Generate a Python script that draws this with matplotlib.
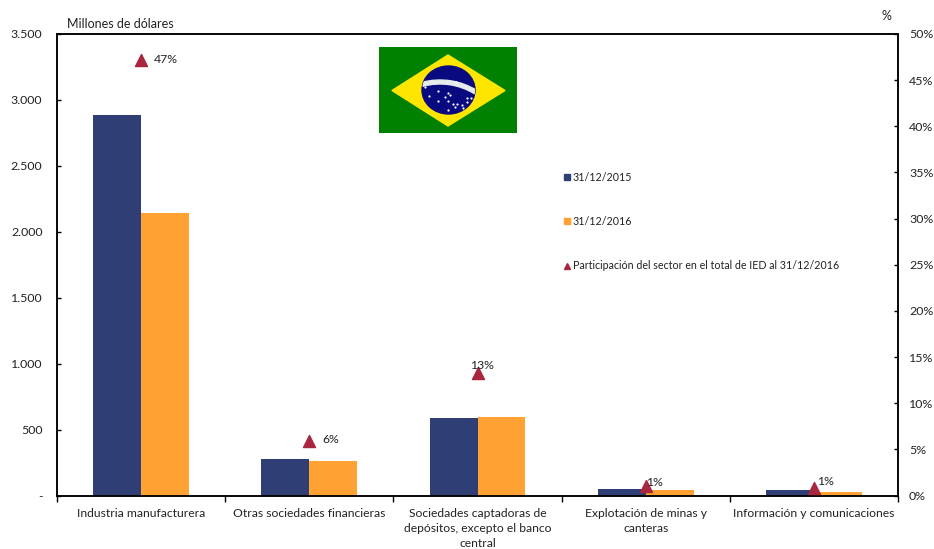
import numpy as np
import matplotlib
matplotlib.use("Agg")
import matplotlib.pyplot as plt
from matplotlib.patches import Polygon, Ellipse, Rectangle, Wedge

plt.rcParams['font.family'] = ['Lato', 'DejaVu Sans']

# Data
categories = ["Industria manufacturera", "Otras sociedades financieras",
              "Sociedades captadoras de\ndepósitos, excepto el banco\ncentral",
              "Explotación de minas y\ncanteras", "Información y comunicaciones"]
ied_2015 = [2885, 280, 590, 50, 45]
ied_2016 = [2145, 265, 597, 40, 28]
share_2016 = [47.2, 5.9, 13.3, 1.0, 0.8]
share_labels = ["47%", "6%", "13%", "1%", "1%"]
yticks_left = [0, 500, 1000, 1500, 2000, 2500, 3000, 3500]
yticklabels_left = ["-", "500", "1.000", "1.500", "2.000", "2.500", "3.000", "3.500"]
yticks_right = [0, 5, 10, 15, 20, 25, 30, 35, 40, 45, 50]

W, H = 934, 549
fig = plt.figure(figsize=(W / 100, H / 100), dpi=100)
ax = fig.add_axes([57 / W, 1 - 495.5 / H, (898 - 57) / W, (495.5 - 34) / H])

x = np.arange(len(categories))
bw = 0.285
b1 = ax.bar(x - bw / 2, ied_2015, bw, color="#2F3E75", label="31/12/2015")
b2 = ax.bar(x + bw / 2, ied_2016, bw, color="#FFA233", label="31/12/2016")

ax.set_xlim(-0.5, len(categories) - 0.5)
ax.set_ylim(0, 3500)
ax.set_yticks(yticks_left)
ax.set_yticklabels(yticklabels_left, fontsize=8.9, color="#222222")
ax.tick_params(axis="y", direction="in", length=3, width=1, pad=10.5)
ax.set_xticks(x)
ax.set_xticklabels(categories, fontsize=8.7, color="#222222", linespacing=1.42)
ax.tick_params(axis="x", length=0, pad=9)
ax.set_xticks(np.arange(-0.5, len(categories)), minor=True)
ax.tick_params(axis="x", which="minor", direction="out", length=4, width=1)

ax2 = ax.twinx()
ax2.set_ylim(0, 50)
ax2.set_yticks(yticks_right)
ax2.set_yticklabels([f"{v}%" for v in yticks_right], fontsize=8.9, color="#222222")
ax2.tick_params(axis="y", direction="in", length=3, width=1, pad=8)
tri = ax2.scatter(x, share_2016, marker="^", s=75, color="#A8273F", zorder=5,
                  label="Participación del sector en el total de IED al 31/12/2016")

# Share labels, offsets in pixels from each marker
label_offsets = [(13, 0), (13, 2), (-7, 7), (0, 4), (3, 7)]
for xi, yi, txt, off in zip(x, share_2016, share_labels, label_offsets):
    ax2.annotate(txt, (xi, yi), xytext=(off[0] * 0.72, off[1] * 0.72),
                 textcoords="offset points", fontsize=8.8, color="#222222",
                 ha="left", va="center", zorder=6)

for a in (ax, ax2):
    for s in a.spines.values():
        s.set_linewidth(1.1)
        s.set_color("black")

leg_handles = [
    plt.Line2D([], [], marker="s", ls="", ms=4.5, color="#2F3E75"),
    plt.Line2D([], [], marker="s", ls="", ms=4.5, color="#FFA233"),
    plt.Line2D([], [], marker="^", ls="", ms=4.5, color="#A8273F"),
]
ax2.legend(leg_handles, ["31/12/2015", "31/12/2016", tri.get_label()],
           loc="upper left", bbox_to_anchor=(561 / W, 1 - 172 / H),
           bbox_transform=fig.transFigure, frameon=False, fontsize=7.7,
           labelspacing=3.1, handletextpad=0.0, handlelength=1.1,
           borderpad=0, borderaxespad=0, labelcolor="#222222")

# Unit captions
fig.text(67 / W, 1 - 24 / H, "Millones de dólares", fontsize=9, color="#222222", va="center")
fig.text(882 / W, 1 - 16 / H, "%", fontsize=9, color="#222222", va="center")

# Flag, drawn in pixel space
fax = fig.add_axes([379 / W, 1 - 133 / H, 138 / W, 86 / H])
fax.set_xlim(379, 517)
fax.set_ylim(133, 47)
fax.axis("off")
fax.add_patch(Rectangle((379, 47), 138, 86, color="#008000"))
fax.add_patch(Polygon([(392, 90.5), (448, 55), (505, 90.5), (448, 126)], color="#FFE600"))
globe = Ellipse((448.5, 90), 53, 48, color="#0A0A80")
fax.add_patch(globe)
band = Wedge((440, 150), 70, 255, 302, width=4, color="#E6ECEC")
fax.add_patch(band)
band.set_clip_path(globe)
star_x = [438, 448, 445, 450, 429, 438, 448, 448, 453, 457, 455, 462, 467, 471, 467, 463, 425, 456]
star_y = [91, 93, 97, 95, 96, 101, 101, 110, 104, 104, 107, 105, 98, 98, 102, 108, 87, 82]
fax.scatter(star_x, star_y, s=2.5, color="white", linewidths=0)

fig.savefig("out.png", dpi=100)
